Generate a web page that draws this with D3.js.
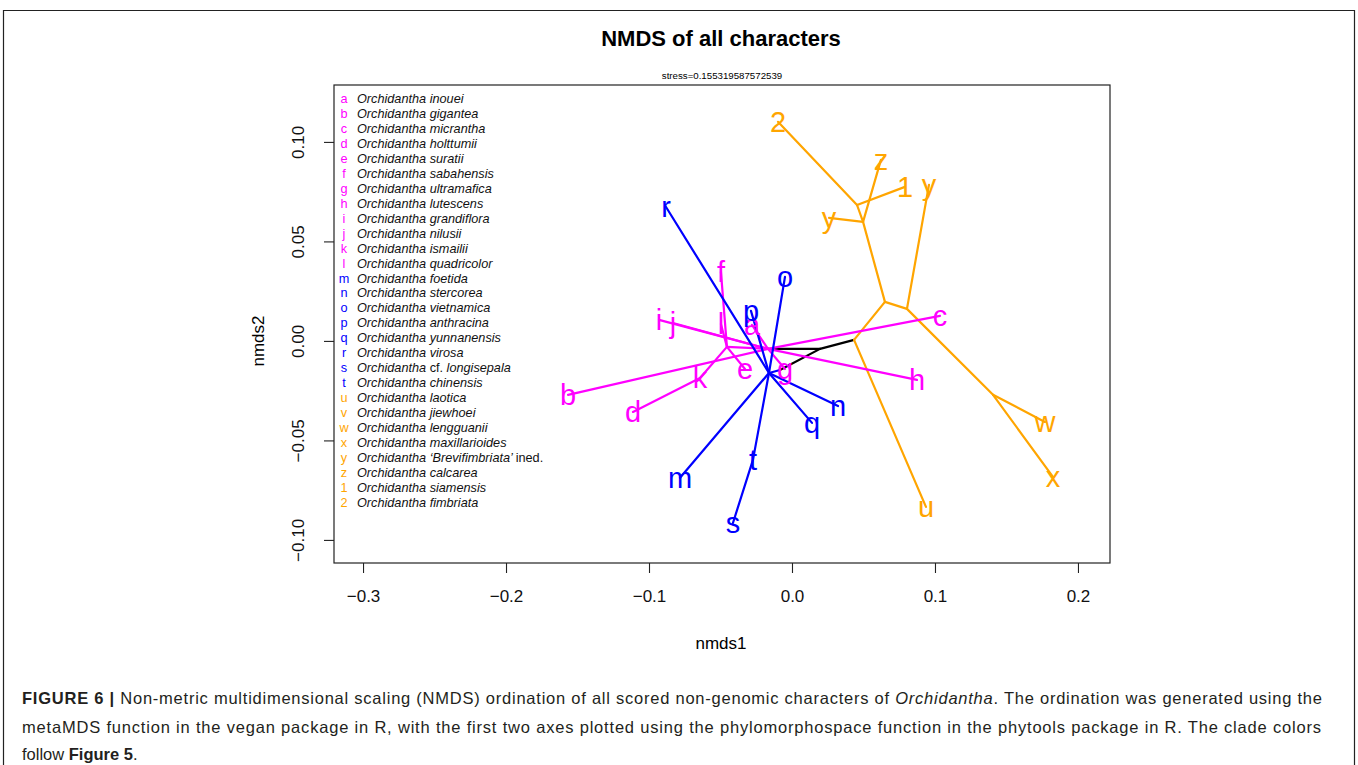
<!DOCTYPE html>
<html>
<head>
<meta charset="utf-8">
<script src="https://cdn.jsdelivr.net/npm/d3@7"></script>
<style>
  body { margin: 0; background: #fff; }
  svg { display: block; font-family: "Liberation Sans", Arial, sans-serif; }
</style>
</head>
<body>
<div id="chart"></div>
<script>
// tips of the tree (letters used in the legend) and their NMDS coordinates
const tipIds = ["a","b","c","d","e","f","g","h","i","j","k","l","m","n","o","p","q","r","s","t","u","v","w","x","y","z","1","2"];
// letters as printed in the plot (v is printed as "y" in the original figure)
const plotLabels = ["a","b","c","d","e","f","g","h","i","j","k","l","m","n","o","p","q","r","s","t","u","y","w","x","y","z","1","2"];
const speciesNames = ["inouei","gigantea","micrantha","holttumii","suratii","sabahensis","ultramafica","lutescens",
  "grandiflora","nilusii","ismailii","quadricolor","foetida","stercorea","vietnamica","anthracina","yunnanensis",
  "virosa","cf. longisepala","chinensis","laotica","jiewhoei","lengguanii","maxillarioides",
  "\u2018Brevifimbriata\u2019 ined.","calcarea","siamensis","fimbriata"];
const tipClade = ["pink","pink","pink","pink","pink","pink","pink","pink","pink","pink","pink","pink",
  "blue","blue","blue","blue","blue","blue","blue","blue",
  "orange","orange","orange","orange","orange","orange","orange","orange"];
const tipX = [-0.0280,-0.1566,0.1035,-0.1112,-0.0329,-0.0497,-0.0049,0.0874,-0.0930,-0.0832,-0.0643,-0.0497,
  -0.0783,0.0322,-0.0049,-0.0287,0.0140,-0.0881,-0.0413,-0.0273,
  0.0937,0.0958,0.1769,0.1825,0.0259,0.0622,0.0790,-0.0098];
const tipY = [0.0080,-0.0271,0.0126,-0.0357,-0.0141,0.0347,-0.0141,-0.0196,0.0106,0.0090,-0.0186,0.0085,
  -0.0688,-0.0327,0.0322,0.0151,-0.0412,0.0673,-0.0915,-0.0598,
  -0.0834,0.0784,-0.0407,-0.0683,0.0618,0.0910,0.0774,0.1101];

// internal nodes
const nodeIds = ["R","E","C","D","B","A","F","P0","P1","B0","Nb"];
const nodeX = [0.0196,0.0434,0.0650,0.0804,0.0497,0.0455,0.1406,-0.0168,-0.0455,-0.0084,-0.0161];
const nodeY = [-0.0040,0.0005,0.0196,0.0161,0.0598,0.0683,-0.0271,-0.0040,-0.0030,-0.0146,-0.0161];

// branches
const edgeFrom = ["R","R","R",
  "E","E","C","C","B","B","B","A","A","D","D","F","F",
  "P0","P0","P0","P0","P0","P0","P0","P0","P1","P1","P1","P1","k",
  "B0","Nb","Nb","Nb","Nb","Nb","Nb","Nb","t"];
const edgeTo = ["E","P0","B0",
  "C","u","B","D","A","z","y","2","1","v","F","w","x",
  "a","c","b","P1","h","g","i","j","l","f","e","k","d",
  "Nb","r","o","p","m","t","q","n","s"];
const edgeClade = ["black","black","black",
  "orange","orange","orange","orange","orange","orange","orange","orange","orange","orange","orange","orange","orange",
  "pink","pink","pink","pink","pink","pink","pink","pink","pink","pink","pink","pink","pink",
  "blue","blue","blue","blue","blue","blue","blue","blue","blue"];

const xTicks = [-0.3,-0.2,-0.1,0.0,0.1,0.2];
const yTicks = [-0.10,-0.05,0.00,0.05,0.10];

const cladeColor = { pink: "#ff00ff", blue: "#0000ff", orange: "#ffa500", black: "#000000" };

const W = 1358, H = 765;
const box = { left: 334, right: 1110, top: 85, bottom: 563 };

const svg = d3.select("#chart").append("svg").attr("width", W).attr("height", H);

// outer figure frame (open at the bottom)
svg.append("path")
  .attr("d", `M3.5,${H} V10.5 H1354.5 V${H}`)
  .attr("fill", "none").attr("stroke", "#222").attr("stroke-width", 1.2);

const x = d3.scaleLinear().domain([-0.3203, 0.2224]).range([box.left, box.right]);
const y = d3.scaleLinear().domain([-0.1116, 0.1286]).range([box.bottom, box.top]);

// coordinates lookup
const pos = {};
tipIds.forEach((id, i) => { pos[id] = [tipX[i], tipY[i]]; });
nodeIds.forEach((id, i) => { pos[id] = [nodeX[i], nodeY[i]]; });

// title and stress
svg.append("text").attr("x", 721).attr("y", 46).attr("text-anchor", "middle")
  .attr("font-size", 22).attr("font-weight", "bold").text("NMDS of all characters");
svg.append("text").attr("x", 722).attr("y", 79).attr("text-anchor", "middle")
  .attr("font-size", 9.7).text("stress=0.155319587572539");

// axes
const xAxis = svg.append("g").attr("transform", `translate(0,${box.bottom})`)
  .call(d3.axisBottom(x).tickValues(xTicks).tickFormat(d3.format(".1f")).tickSize(10).tickPadding(17));
const yAxis = svg.append("g").attr("transform", `translate(${box.left},0)`)
  .call(d3.axisLeft(y).tickValues(yTicks).tickFormat(d3.format(".2f")).tickSize(10));
[xAxis, yAxis].forEach(g => {
  g.select(".domain").remove();
  g.selectAll(".tick line").attr("stroke", "#222").attr("stroke-width", 1.1);
  g.selectAll("text").attr("font-size", 17).attr("fill", "#111").attr("font-family", "Liberation Sans, Arial, sans-serif");
});
yAxis.selectAll(".tick text")
  .attr("x", null).attr("dy", null)
  .attr("text-anchor", "middle")
  .attr("transform", "translate(-36,0) rotate(-90)")
  .attr("dy", "0.35em");

svg.append("text").attr("x", 721).attr("y", 649).attr("text-anchor", "middle")
  .attr("font-size", 17).text("nmds1");
svg.append("text").attr("transform", "translate(264,341) rotate(-90)").attr("text-anchor", "middle")
  .attr("font-size", 17).text("nmds2");

// plot box
svg.append("rect")
  .attr("x", box.left).attr("y", box.top)
  .attr("width", box.right - box.left).attr("height", box.bottom - box.top)
  .attr("fill", "none").attr("stroke", "#222").attr("stroke-width", 1.2);

// branches
svg.append("g").selectAll("line")
  .data(edgeFrom.map((f, i) => ({ f, t: edgeTo[i], c: edgeClade[i] })))
  .join("line")
  .attr("x1", d => x(pos[d.f][0])).attr("y1", d => y(pos[d.f][1]))
  .attr("x2", d => x(pos[d.t][0])).attr("y2", d => y(pos[d.t][1]))
  .attr("stroke", d => cladeColor[d.c])
  .attr("stroke-width", 2.2)
  .attr("stroke-linecap", "round");

// tip letters
svg.append("g").selectAll("text")
  .data(tipIds.map((id, i) => ({ id, lab: plotLabels[i], c: tipClade[i] })))
  .join("text")
  .attr("x", d => x(pos[d.id][0]))
  .attr("y", d => y(pos[d.id][1]))
  .attr("text-anchor", "middle")
  .attr("dy", "0.36em")
  .attr("font-size", 29)
  .attr("fill", d => cladeColor[d.c])
  .text(d => d.lab);

// legend
const legend = svg.append("g").attr("font-size", 12.7);
tipIds.forEach((id, i) => {
  const ly = 103 + i * 14.96;
  legend.append("text").attr("x", 344).attr("y", ly).attr("text-anchor", "middle")
    .attr("fill", cladeColor[tipClade[i]]).text(id);
  const t = legend.append("text").attr("x", 357).attr("y", ly).attr("fill", "#111");
  t.append("tspan").attr("font-style", "italic").text("Orchidantha ");
  speciesNames[i].split(/(cf\.|ined\.)/).filter(s => s.length).forEach(part => {
    const upright = part === "cf." || part === "ined.";
    t.append("tspan").attr("font-style", upright ? "normal" : "italic").text(part);
  });
});

// caption
const cap = svg.append("g").attr("font-size", 16.5).attr("fill", "#231f20");
const l1 = cap.append("text").attr("x", 22).attr("y", 704)
  .attr("textLength", 1300).attr("lengthAdjust", "spacing");
l1.append("tspan").attr("font-weight", "bold").text("FIGURE 6 | ");
l1.append("tspan").text("Non-metric multidimensional scaling (NMDS) ordination of all scored non-genomic characters of ");
l1.append("tspan").attr("font-style", "italic").text("Orchidantha");
l1.append("tspan").text(". The ordination was generated using the");
cap.append("text").attr("x", 22).attr("y", 733)
  .attr("textLength", 1299).attr("lengthAdjust", "spacing")
  .text("metaMDS function in the vegan package in R, with the first two axes plotted using the phylomorphospace function in the phytools package in R. The clade colors");
const l3 = cap.append("text").attr("x", 22).attr("y", 760);
l3.append("tspan").text("follow ");
l3.append("tspan").attr("font-weight", "bold").text("Figure 5");
l3.append("tspan").text(".");
</script>
</body>
</html>
